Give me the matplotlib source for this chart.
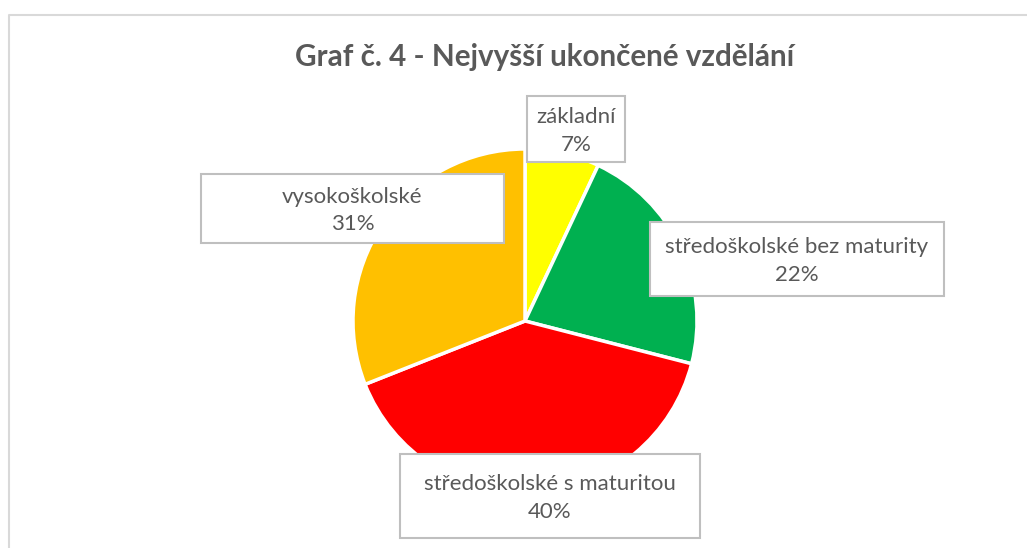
import matplotlib
matplotlib.use("Agg")
import matplotlib.pyplot as plt
from matplotlib.patches import Rectangle

# ================= DATA =================

categories = ["základní", "středoškolské bez maturity",
              "středoškolské s maturitou", "vysokoškolské"]
shares = [7, 22, 40, 31]
colors = ["#FFFF00", "#00B050", "#FF0000", "#FFC000"]
title = "Graf č. 4 - Nejvyšší ukončené vzdělání"

# label boxes in pixel coords (x0, y0 top, x1, y1 bottom)
boxes = [(527, 96, 625, 162),
         (650, 222, 944, 296),
         (400, 454, 700, 538),
         (201, 174, 504, 243)]

W, H = 1027, 548
TXT = "#595959"
plt.rcParams["font.family"] = ["Lato", "DejaVu Sans"]

fig = plt.figure(figsize=(W / 100, H / 100), dpi=100)
ax = fig.add_axes([0, 0, 1, 1])

# outer chart frame (cut by the image edge)
ax.plot([8.5, 8.5, W + 5], [-5, H - 14.5, H - 14.5], color="#d9d9d9", lw=1.5)

ax.text(545, H - 57, title, ha="center", va="center", fontsize=21.3,
        fontweight="bold", color=TXT)

ax.pie(shares, colors=colors, startangle=90, counterclock=False,
       center=(525, H - 321), radius=172, frame=True,
       wedgeprops=dict(edgecolor="white", linewidth=2.5))
ax.set_xlim(0, W)
ax.set_ylim(0, H)
ax.set_aspect("equal")
ax.axis("off")

for cat, val, (x0, y0, x1, y1) in zip(categories, shares, boxes):
    ax.add_patch(Rectangle((x0, H - y1), x1 - x0, y1 - y0, facecolor="white",
                           edgecolor="#bfbfbf", lw=1.5, zorder=5))
    cx = (x0 + x1) / 2
    cy = H - (y0 + y1) / 2 - 2
    ax.text(cx, cy, f"{cat}\n{val}%", ha="center", va="center",
            fontsize=16, color=TXT, linespacing=1.45, zorder=6)

fig.savefig("out.png", dpi=100)
